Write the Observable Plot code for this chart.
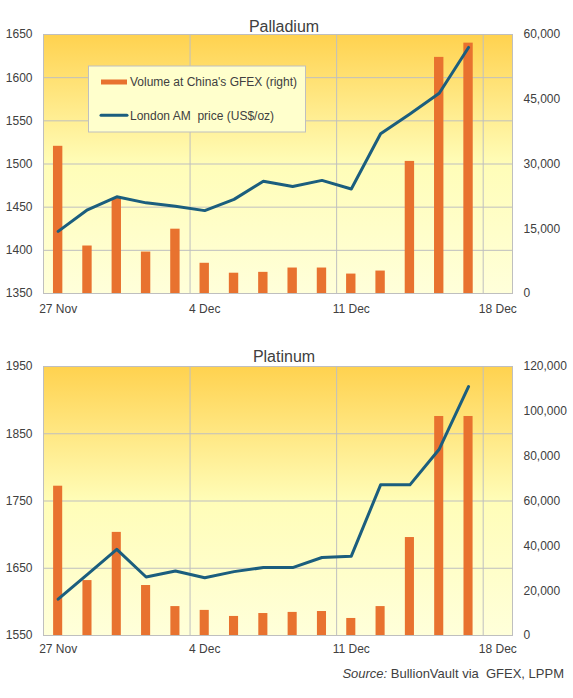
<!DOCTYPE html>
<html>
<head>
<meta charset="utf-8">
<script src="https://cdn.jsdelivr.net/npm/d3@7"></script>
<script src="https://cdn.jsdelivr.net/npm/@observablehq/plot@0.6"></script>
<style>
  html, body { margin: 0; padding: 0; background: #fff; }
  #wrap { position: relative; width: 573px; height: 698px; overflow: hidden; font-family: "Liberation Sans", Arial, sans-serif; color: #404040; }
  #wrap svg.plot { display: block; }
  #source { position: absolute; right: 9px; top: 667px; font-size: 13px; line-height: 13px; color: #404040; white-space: pre; }
</style>
</head>
<body>
<svg width="0" height="0" style="position:absolute">
  <defs>
    <linearGradient id="bg" x1="0" y1="0" x2="0" y2="1">
      <stop offset="0" stop-color="#FFD24F"/>
      <stop offset="0.5" stop-color="#FFFDB8"/>
      <stop offset="1" stop-color="#FFFFDA"/>
    </linearGradient>
  </defs>
</svg>
<div id="wrap"></div>
<script>
// ---- data ----
const dates = ["27 Nov","28 Nov","1 Dec","2 Dec","3 Dec","4 Dec","5 Dec","8 Dec","9 Dec","10 Dec","11 Dec","12 Dec","15 Dec","16 Dec","17 Dec","18 Dec"];
const tickDates = ["27 Nov","4 Dec","11 Dec","18 Dec"];

const palladiumPrice  = [1422, 1447, 1462, 1455, 1451, 1446, 1459, 1480, 1474, 1481, 1471, 1535, 1558, 1582, 1635];
const palladiumVolume = [34100, 11000, 22000, 9600, 14900, 7000, 4700, 4900, 5900, 5900, 4500, 5200, 30600, 54700, 58000];
const palladiumPriceTicks  = [1350, 1400, 1450, 1500, 1550, 1600, 1650];
const palladiumVolumeTicks = [0, 15000, 30000, 45000, 60000];

const platinumPrice  = [1604, 1641, 1678, 1637, 1646, 1636, 1645, 1651, 1651, 1666, 1668, 1774, 1774, 1827, 1920];
const platinumVolume = [66600, 24500, 46000, 22300, 12900, 11200, 8500, 9800, 10300, 10700, 7600, 12900, 43700, 97700, 97700];
const platinumPriceTicks  = [1550, 1650, 1750, 1850, 1950];
const platinumVolumeTicks = [0, 20000, 40000, 60000, 80000, 100000, 120000];

const legendLabels = ["Volume at China's GFEX (right)", "London AM  price (US$/oz)"];
const sourceText = "BullionVault via  GFEX, LPPM";

// ---- styles ----
const BAR = "#E8722F";
const LINE = "#1B5E7E";
const GRID = "#BFBFBF";
const TEXT = "#404040";

function chart({title, price, volume, priceTicks, volumeTicks, height, marginTop, marginBottom, titleDy, xPad, barHalf}) {
  const yDomain = [priceTicks[0], priceTicks[priceTicks.length - 1]];
  const v2p = d3.scaleLinear([volumeTicks[0], volumeTicks[volumeTicks.length - 1]], yDomain);
  const rows = price.map((p, i) => ({i, date: dates[i], price: p, vol: v2p(volume[i])}));
  const tickIdx = tickDates.map(d => dates.indexOf(d));
  const fmt = d3.format(",");
  return Plot.plot({
    width: 573,
    height,
    marginLeft: 43,
    marginRight: 61,
    marginTop,
    marginBottom,
    style: {fontFamily: "'Liberation Sans', Arial, sans-serif", fontSize: "12px", color: TEXT, background: "transparent"},
    x: {type: "linear", domain: [-0.5, dates.length - 0.5]},
    y: {domain: yDomain},
    marks: [
      Plot.frame({fill: "url(#bg)", stroke: "none"}),
      Plot.gridY(priceTicks, {stroke: GRID, strokeOpacity: 1}),
      Plot.gridX(tickIdx.slice(1).map(i => i - 0.5), {stroke: GRID, strokeOpacity: 1}),
      Plot.rectY(rows, {x1: d => d.i - barHalf, x2: d => d.i + barHalf, y1: yDomain[0], y2: "vol", fill: BAR}),
      Plot.lineY(rows, {x: "i", y: "price", stroke: LINE, strokeWidth: 3}),
      Plot.frame({stroke: GRID, strokeOpacity: 1}),
      Plot.axisY(priceTicks, {anchor: "left", tickSize: 0, tickPadding: 11, label: null, tickFormat: d => String(d)}),
      Plot.axisY(volumeTicks.map(v2p), {anchor: "right", tickSize: 0, tickPadding: 11, label: null,
        tickFormat: p => fmt(Math.round(v2p.invert(p)))}),
      Plot.axisX(tickIdx, {anchor: "bottom", tickSize: 0, tickPadding: xPad, label: null, tickFormat: i => dates[i]}),
      Plot.text([title], {text: d => d, frameAnchor: "top", dx: 6, dy: titleDy, fontSize: 16, fill: TEXT})
    ]
  });
}

const wrap = document.getElementById("wrap");
wrap.append(chart({
  title: "Palladium", price: palladiumPrice, volume: palladiumVolume,
  priceTicks: palladiumPriceTicks, volumeTicks: palladiumVolumeTicks,
  height: 325, marginTop: 34, marginBottom: 32, titleDy: -14, xPad: 11, barHalf: 0.16
}));
wrap.append(chart({
  title: "Platinum", price: platinumPrice, volume: platinumVolume,
  priceTicks: platinumPriceTicks, volumeTicks: platinumVolumeTicks,
  height: 373, marginTop: 41, marginBottom: 63, titleDy: -16, xPad: 9, barHalf: 0.155
}));

// legend (top chart)
const lg = d3.select(wrap).append("svg")
  .attr("width", 573).attr("height", 698)
  .style("position", "absolute").style("left", 0).style("top", 0).style("pointer-events", "none")
  .style("font-family", "'Liberation Sans', Arial, sans-serif").style("font-size", "12px");
lg.append("rect").attr("x", 88.5).attr("y", 66).attr("width", 217).attr("height", 66)
  .attr("fill", "#FFFFCC").attr("stroke", GRID);
lg.append("rect").attr("x", 101).attr("y", 79.5).attr("width", 26).attr("height", 5).attr("fill", BAR);
lg.append("line").attr("x1", 101).attr("x2", 127).attr("y1", 115.3).attr("y2", 115.3)
  .attr("stroke", LINE).attr("stroke-width", 3).attr("stroke-linecap", "round");
lg.append("text").attr("x", 130).attr("y", 86).attr("fill", TEXT).style("white-space", "pre").text(legendLabels[0]);
lg.append("text").attr("x", 130).attr("y", 119.5).attr("fill", TEXT).style("white-space", "pre").text(legendLabels[1]);

// source
const src = document.createElement("div");
src.id = "source";
src.innerHTML = "<i>Source:</i> " + sourceText;
wrap.append(src);
</script>
</body>
</html>
